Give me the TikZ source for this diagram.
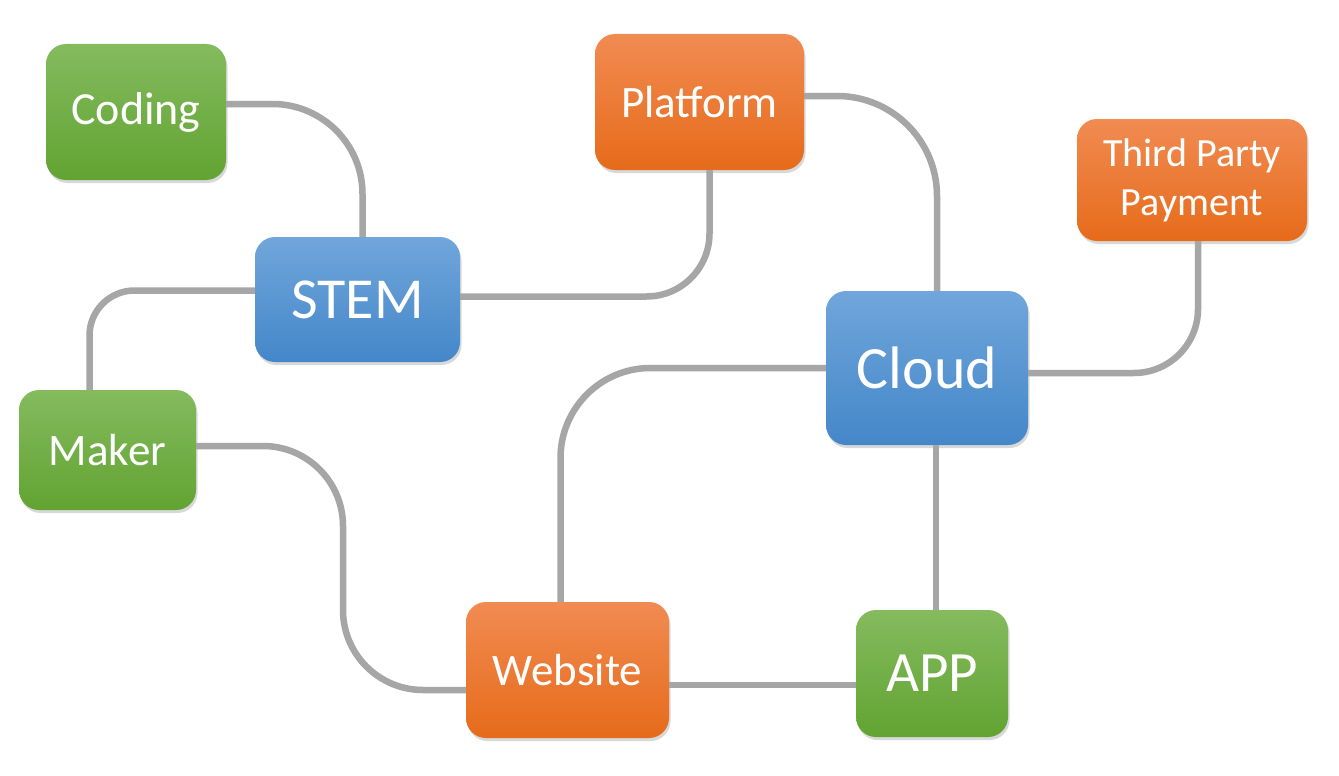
\documentclass[tikz,border=0pt]{standalone}
\usepackage{fontspec}
\setmainfont{Carlito}
\usetikzlibrary{shadows}
\definecolor{greentop}{HTML}{84BB5E}
\definecolor{greenmid}{HTML}{70B140}
\definecolor{greenbot}{HTML}{62A332}
\definecolor{orangetop}{HTML}{F18B52}
\definecolor{orangemid}{HTML}{F47C2C}
\definecolor{orangebot}{HTML}{E66B1A}
\definecolor{bluetop}{HTML}{70A6DB}
\definecolor{bluemid}{HTML}{5A9BD9}
\definecolor{bluebot}{HTML}{4487C9}
\definecolor{linegray}{HTML}{A6A6A6}
\begin{document}
\begin{tikzpicture}[x=1pt,y=-1pt,
  box/.style={rectangle, rounded corners=20pt, inner sep=0pt, text=white, align=center,
    drop shadow={shadow xshift=1.5pt, shadow yshift=-3pt, opacity=0.3}},
  greenbox/.style={box, top color=greentop, middle color=greenmid, bottom color=greenbot},
  orangebox/.style={box, top color=orangetop, middle color=orangemid, bottom color=orangebot},
  bluebox/.style={box, top color=bluetop, middle color=bluemid, bottom color=bluebot},
  link/.style={draw=linegray, line width=6.5pt}]
\useasboundingbox[fill=white] (0,0) rectangle (1339,776);
%\draw (0,0) rectangle (1339,776);

\draw (136,112) node[greenbox, minimum width=180pt, minimum height=136pt,
  font=\fontsize{46}{55}\selectfont] (coding) {Coding};
\draw (699.5,102) node[orangebox, minimum width=209pt, minimum height=136pt,
  font=\fontsize{45}{54}\selectfont] (platform) {Platform};
\draw (1192,180) node[orangebox, minimum width=230pt, minimum height=122pt,
  font=\fontsize{40}{49}\selectfont] (payment) {Third Party\\Payment};
\draw (357.5,299.5) node[bluebox, minimum width=205pt, minimum height=125pt,
  font=\fontsize{58}{70}\selectfont] (stem) {STEM};
\draw (927,368) node[bluebox, minimum width=202pt, minimum height=154pt,
  font=\fontsize{60}{72}\selectfont] (cloud) {Cloud};
\draw (107.5,450) node[greenbox, minimum width=177pt, minimum height=120pt,
  font=\fontsize{45}{54}\selectfont] (maker) {Maker};
\draw (567.5,670) node[orangebox, minimum width=203pt, minimum height=136pt,
  font=\fontsize{45}{54}\selectfont] (website) {Website};
\draw (932,673.5) node[greenbox, minimum width=152pt, minimum height=127pt,
  font=\fontsize{57}{68}\selectfont] (app) {APP};
\coordinate (bend) at (343,690);

\draw[link, rounded corners=90pt] ([yshift=8pt]coding.east) -| ([xshift=5pt]stem.north);
\draw[link, rounded corners=45pt] ([yshift=9pt]stem.west) -| ([xshift=-18pt]maker.north);
\draw[link, rounded corners=63pt] ([yshift=3pt]stem.east) -| ([xshift=10pt]platform.south);
\draw[link, rounded corners=100pt] ([yshift=6pt]platform.east) -| ([xshift=10pt]cloud.north);
\draw[link, rounded corners=64pt] ([yshift=-5pt]cloud.east) -| ([xshift=6pt]payment.south);
\draw[link, rounded corners=90pt] (cloud.west) -| ([xshift=-7pt]website.north);
\draw[link] ([xshift=4pt]app.north) -- ([xshift=4pt]app.north |- cloud.south);
\draw[link, rounded corners=80pt] ([yshift=4pt]maker.east) -| (bend) -- ([yshift=-20pt]website.west);
\draw[link] ([yshift=-15pt]website.east) -- ([yshift=-15pt]website.east -| app.west);
\end{tikzpicture}
\end{document}
